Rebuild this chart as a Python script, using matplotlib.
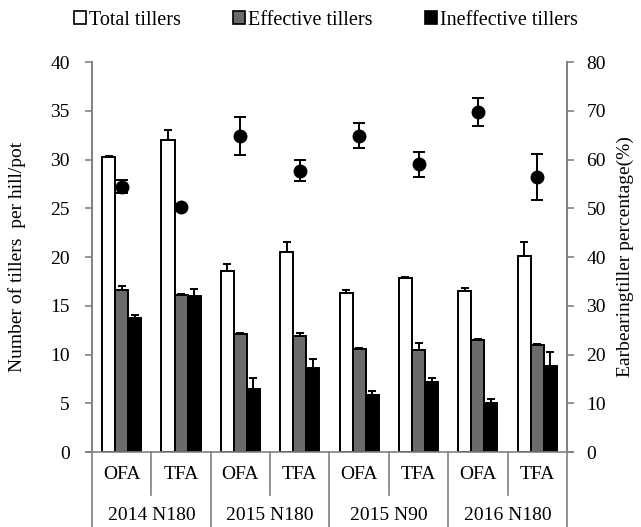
import matplotlib
matplotlib.use("Agg")
import matplotlib.pyplot as plt
from matplotlib.patches import Patch
import numpy as np

plt.rcParams['font.family'] = ['Liberation Serif', 'DejaVu Serif']

treatments = ["OFA", "TFA", "OFA", "TFA", "OFA", "TFA", "OFA", "TFA"]
groups = ["2014 N180", "2015 N180", "2015 N90", "2016 N180"]

total = [30.3, 32.0, 18.6, 20.5, 16.3, 17.8, 16.5, 20.1]
total_err = [0.1, 1.0, 0.7, 1.0, 0.35, 0.1, 0.35, 1.45]
effective = [16.65, 16.1, 12.15, 11.9, 10.6, 10.5, 11.5, 11.0]
effective_err = [0.35, 0.1, 0.05, 0.3, 0.05, 0.65, 0.05, 0.05]
ineffective = [13.75, 16.0, 6.5, 8.65, 5.8, 7.2, 5.0, 8.85]
ineffective_err = [0.3, 0.7, 1.05, 0.85, 0.5, 0.4, 0.45, 1.45]
ear_pct = [54.4, 50.2, 64.9, 57.7, 64.9, 59.0, 69.8, 56.4]
ear_err = [1.3, 0.5, 3.9, 2.1, 2.6, 2.5, 2.9, 4.7]

fig = plt.figure(figsize=(6.41, 5.27), dpi=100)
ax = fig.add_axes([0.1435, 0.1423, 0.741, 0.740])
ax2 = ax.twinx()

x = np.arange(len(treatments))
w = 0.22
for off, vals, errs, col in [(-w, total, total_err, "white"),
                             (0, effective, effective_err, "#6b6b6b"),
                             (w, ineffective, ineffective_err, "black")]:
    ax.bar(x + off, vals, w, color=col, edgecolor="black", linewidth=1.4, zorder=2)
    ax.errorbar(x + off, vals, yerr=[np.zeros(len(errs)), errs], fmt="none",
                ecolor="black", capsize=3, zorder=3, elinewidth=1.4, capthick=1.4)

ax2.errorbar(x, ear_pct, yerr=ear_err, fmt="o", color="black", ms=9,
             capsize=4, elinewidth=1.4, capthick=1.4)

ax.set_xlim(-0.5, len(treatments) - 0.5)
ax.set_ylim(0, 40)
ax2.set_ylim(0, 80)
ax.set_yticks(np.arange(0, 41, 5))
ax2.set_yticks(np.arange(0, 81, 10))
ax.set_xticks([])

gray = "#808080"
for a in (ax, ax2):
    a.spines["top"].set_visible(False)
    a.spines["bottom"].set_visible(False)
    for s in ("left", "right"):
        a.spines[s].set_color(gray)
        a.spines[s].set_linewidth(1.2)
    a.tick_params(axis="y", direction="out", length=5, width=1.2, color=gray,
                  labelsize=14)
ax.tick_params(axis="y", pad=11)
ax2.tick_params(axis="y", pad=9)

ax.set_ylabel("Number of tillers  per hill/pot", fontsize=14)
ax2.set_ylabel("Earbearingtiller percentage(%)", fontsize=14)
ax.yaxis.set_label_coords(-0.138, 0.5)
ax2.yaxis.set_label_coords(1.105, 0.5)

# zero line sticking out a little past both spines
ax.plot([-0.013, 1.013], [0, 0], transform=ax.transAxes, color=gray, lw=1.2,
        clip_on=False, zorder=4)

# two-level category axis
trans = ax.get_xaxis_transform()
for i in range(len(treatments) + 1):
    bottom = -0.195 if i % 2 == 0 else -0.11
    ax.plot([i - 0.5, i - 0.5], [0, bottom], transform=trans, color=gray,
            lw=1.2, clip_on=False)
for i, t in enumerate(treatments):
    ax.text(i, -0.058, t, transform=trans, ha="center", va="center", fontsize=14)
for j, g in enumerate(groups):
    ax.text(2 * j + 0.5, -0.162, g, transform=trans, ha="center", va="center",
            fontsize=14)

handles = [Patch(facecolor="white", edgecolor="black", lw=1.2),
           Patch(facecolor="#6b6b6b", edgecolor="black", lw=1.2),
           Patch(facecolor="black", edgecolor="black", lw=1.2)]
fig.legend(handles, ["Total tillers", "Effective tillers", "Ineffective tillers"],
           loc="center left", bbox_to_anchor=(74 / 641, 0.962), ncol=3,
           frameon=False, fontsize=14.5, handlelength=0.6, handleheight=0.6,
           handletextpad=0.15, columnspacing=2.6, borderpad=0, borderaxespad=0)

fig.savefig("out.png", dpi=100)
